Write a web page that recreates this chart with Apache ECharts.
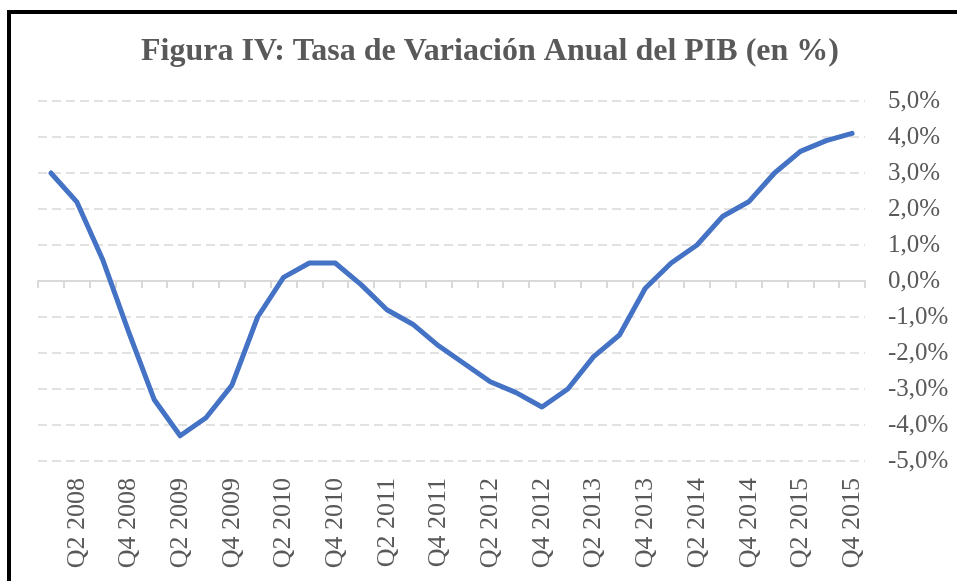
<!DOCTYPE html>
<html>
<head>
<meta charset="utf-8">
<script src="https://cdn.jsdelivr.net/npm/echarts@6/dist/echarts.min.js"></script>
<style>
  html, body { margin: 0; padding: 0; background: #fff; overflow: hidden; }
  #chart { position: absolute; left: 0; top: 0; width: 957px; height: 581px; }
  #frame { position: absolute; left: 7px; top: 10px; width: 1000px; height: 700px;
           border-left: 4px solid #000; border-top: 4px solid #000; pointer-events: none; }
</style>
</head>
<body>
<div id="chart"></div>
<div id="frame"></div>
<script>
const titleText = 'Figura IV: Tasa de Variación Anual del PIB (en %)';
const categories = [
  'Q1 2008','Q2 2008','Q3 2008','Q4 2008',
  'Q1 2009','Q2 2009','Q3 2009','Q4 2009',
  'Q1 2010','Q2 2010','Q3 2010','Q4 2010',
  'Q1 2011','Q2 2011','Q3 2011','Q4 2011',
  'Q1 2012','Q2 2012','Q3 2012','Q4 2012',
  'Q1 2013','Q2 2013','Q3 2013','Q4 2013',
  'Q1 2014','Q2 2014','Q3 2014','Q4 2014',
  'Q1 2015','Q2 2015','Q3 2015','Q4 2015'
];
const gdpGrowth = [
  3.0, 2.2, 0.6, -1.4,
  -3.3, -4.3, -3.8, -2.9,
  -1.0, 0.1, 0.5, 0.5,
  -0.1, -0.8, -1.2, -1.8,
  -2.3, -2.8, -3.1, -3.5,
  -3.0, -2.1, -1.5, -0.2,
  0.5, 1.0, 1.8, 2.2,
  3.0, 3.6, 3.9, 4.1
];
const yMin = -5, yMax = 5, yStep = 1;

const FONT = "'Liberation Serif', 'Times New Roman', serif";
const chart = echarts.init(document.getElementById('chart'), null, { renderer: 'canvas' });
chart.setOption({
  animation: false,
  backgroundColor: '#fff',
  title: {
    text: titleText,
    left: 485,
    textAlign: 'center',
    top: 31,
    textStyle: { fontFamily: FONT, fontSize: 32, fontWeight: 'bold', color: '#595959' }
  },
  grid: { left: 38, right: 92, top: 101, bottom: 120, containLabel: false },
  xAxis: [
    {
      type: 'category',
      data: categories,
      boundaryGap: true,
      axisLine: { show: true, onZero: true, lineStyle: { color: '#d9d9d9', width: 2 } },
      axisTick: { show: true, interval: 0, length: 7, lineStyle: { color: '#d9d9d9', width: 2 } },
      axisLabel: { show: false },
      splitLine: { show: false }
    },
    {
      type: 'category',
      data: categories,
      position: 'bottom',
      boundaryGap: true,
      axisLine: { show: false, onZero: false },
      axisTick: { show: false },
      axisLabel: {
        show: true,
        rotate: 90,
        margin: 17,
        interval: function (idx) { return idx % 2 === 1; },
        fontFamily: FONT, fontSize: 26, color: '#595959'
      },
      splitLine: { show: false }
    }
  ],
  yAxis: {
    type: 'value',
    position: 'right',
    min: yMin, max: yMax, interval: yStep,
    axisLine: { show: false },
    axisTick: { show: false },
    axisLabel: {
      margin: 23,
      fontFamily: FONT, fontSize: 25, color: '#595959',
      formatter: function (v) { return v.toFixed(1).replace('.', ',') + '%'; }
    },
    splitLine: { show: true, lineStyle: { color: '#d9d9d9', width: 1.5, type: [9, 5] } }
  },
  series: [{
    type: 'line',
    data: gdpGrowth,
    xAxisIndex: 0,
    showSymbol: false,
    symbol: 'none',
    lineStyle: { color: '#4472C4', width: 5, cap: 'round', join: 'round' },
    z: 5
  }]
});
</script>
</body>
</html>
